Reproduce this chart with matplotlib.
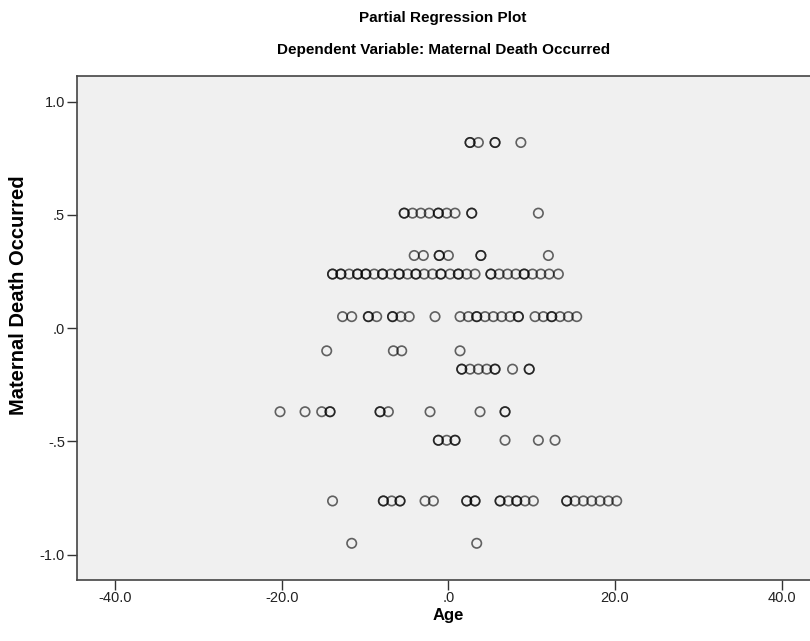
import numpy as np
import matplotlib.pyplot as plt

plt.rcParams['font.family'] = ['Liberation Sans', 'DejaVu Sans']

# residual of the dependent variable for each row of points
row_y = [0.82, 0.508, 0.321, 0.239, 0.051, -0.100, -0.181, -0.369, -0.495, -0.763, -0.950]

# residual ages in each row (repeats = overlapping cases)
x_082 = [2.6, 2.6, 3.6, 5.6, 5.6, 8.7]
x_051 = [-5.3, -5.3, -4.3, -3.3, -2.3, -1.2, -1.2, -0.2, 0.8, 2.8, 2.8, 10.8]
x_032 = [-4.1, -3.0, -1.1, -1.1, 0.0, 3.9, 3.9, 12.0]
x_024 = [-13.9, -13.9, -12.9, -12.9, -11.9, -10.9, -10.9, -9.9, -9.9, -8.9, -7.9, -7.9,
         -6.9, -5.9, -5.9, -4.9, -3.9, -3.9, -2.9, -1.9, -0.9, -0.9, 0.2, 1.2, 1.2,
         2.2, 3.2, 5.1, 5.1, 6.1, 7.1, 8.1, 9.1, 9.1, 10.1, 11.1, 12.1, 13.2]
x_005 = [-12.7, -11.6, -9.6, -9.6, -8.6, -6.7, -6.7, -5.7, -4.7, -1.6, 1.4, 2.4, 3.4,
         3.4, 4.4, 5.4, 6.4, 7.4, 8.4, 8.4, 10.4, 11.4, 12.4, 12.4, 13.4, 14.4, 15.4]
x_m010 = [-14.6, -6.6, -5.6, 1.4]
x_m018 = [1.6, 1.6, 2.6, 3.6, 4.6, 5.6, 5.6, 7.7, 9.7, 9.7]
x_m037 = [-20.2, -17.2, -15.2, -14.2, -14.2, -8.2, -8.2, -7.2, -2.2, 3.8, 6.8, 6.8]
x_m050 = [-1.2, -1.2, -0.2, 0.8, 0.8, 6.8, 10.8, 12.8]
x_m076 = [-13.9, -7.8, -7.8, -6.8, -5.8, -5.8, -2.8, -1.8, 2.2, 2.2, 3.2, 3.2,
          6.2, 6.2, 7.2, 8.2, 8.2, 9.2, 10.2, 14.2, 14.2, 15.2, 16.2, 17.2, 18.2, 19.2, 20.2]
x_m095 = [-11.6, 3.4]

rows_x = [x_082, x_051, x_032, x_024, x_005, x_m010, x_m018, x_m037, x_m050, x_m076, x_m095]

xs = np.concatenate([np.array(r) for r in rows_x])
ys = np.concatenate([np.full(len(r), yv) for r, yv in zip(rows_x, row_y)])

xticks = [-40, -20, 0, 20, 40]
xtick_labels = ['-40.0', '-20.0', '.0', '20.0', '40.0']
yticks = [-1.0, -0.5, 0.0, 0.5, 1.0]
ytick_labels = ['-1.0', '-.5', '.0', '.5', '1.0']

fig = plt.figure(figsize=(8.1, 6.41), dpi=100)
fig.patch.set_facecolor('white')
ax = fig.add_axes([0.0947, 0.0959, 0.9177, 0.786])
ax.set_facecolor('#f0f0f0')

ax.scatter(xs, ys, s=46, facecolors='none', edgecolors='black',
           linewidths=1.2, alpha=0.6, zorder=3)

ax.set_xlim(-44.6, 44.6)
ax.set_ylim(-1.11, 1.115)
ax.set_xticks(xticks)
ax.set_xticklabels(xtick_labels)
ax.set_yticks(yticks)
ax.set_yticklabels(ytick_labels)
ax.tick_params(direction='out', length=7, width=1, color='#333333',
               labelsize=10.5, labelcolor='#222222', pad=1.5)

for sp in ax.spines.values():
    sp.set_color('#444444')
    sp.set_linewidth(1.2)

fig.text(0.547, 0.972, 'Partial Regression Plot', ha='center', va='center',
         fontsize=11, fontweight='bold')
fig.text(0.547, 0.922, 'Dependent Variable: Maternal Death Occurred', ha='center',
         va='center', fontsize=11, fontweight='bold')
fig.text(0.553, 0.04, 'Age', ha='center', va='center', fontsize=12, fontweight='bold')
fig.text(0.023, 0.54, 'Maternal Death Occurred', ha='center', va='center',
         rotation=90, fontsize=14.5, fontweight='bold')

fig.savefig('out.png', dpi=100)
